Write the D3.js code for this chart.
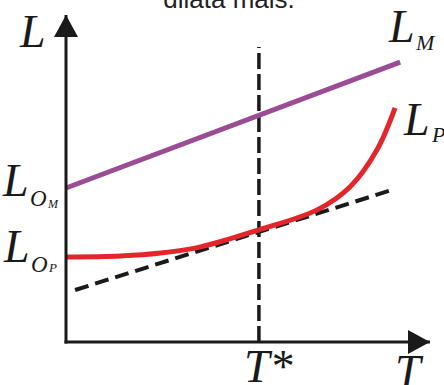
<!DOCTYPE html>
<html>
<head>
<meta charset="utf-8">
<script src="https://cdn.jsdelivr.net/npm/d3@7"></script>
<style>
  html, body { margin: 0; padding: 0; background: #fff; }
  svg { display: block; }
  .math { font-family: 'Liberation Serif', 'DejaVu Serif', serif; font-style: italic; }
</style>
</head>
<body>
<svg id="chart"></svg>
<script>
// T and L are in arbitrary units (0..100)
const tStar = 53;
const lineM = { T: [0, 91.8], L: [47.1, 85.6] };
const tangent = { T: [2.5, 90.4], L: [15.9, 46.8] };
const curveP = {
  T: [0, 15, 26, 37, 53, 69, 78, 85.4, 90.4],
  L: [26, 26.3, 27.2, 29.1, 34.3, 40.4, 47.4, 58.7, 71.6]
};
const dashTop = 90.2;

const W = 444, H = 385;
const svg = d3.select('#chart').attr('width', W).attr('height', H);

const x = d3.scaleLinear().domain([0, 100]).range([66, 430]);
const y = d3.scaleLinear().domain([0, 100]).range([342, 15]);

const defs = svg.append('defs');
defs.append('marker').attr('id', 'arr')
  .attr('viewBox', '0 0 22 24')
  .attr('refX', 22).attr('refY', 12)
  .attr('markerWidth', 22).attr('markerHeight', 24)
  .attr('markerUnits', 'userSpaceOnUse')
  .attr('orient', 'auto')
  .append('path').attr('d', 'M0,0L22,12L0,24Z').attr('fill', '#1a1a1a');

// title fragment cut at the top
svg.append('text')
  .attr('x', 229).attr('y', 8)
  .attr('text-anchor', 'middle')
  .style('font-family', "'Liberation Sans', Arial, sans-serif")
  .attr('font-size', 26)
  .attr('fill', '#222')
  .text('dilata mais.');

const toPts = s => s.T.map((t, i) => [x(t), y(s.L[i])]);
const line = d3.line();

// vertical dashed at T*
svg.append('line')
  .attr('x1', x(tStar)).attr('x2', x(tStar))
  .attr('y1', y(0)).attr('y2', y(dashTop))
  .attr('stroke', '#1a1a1a').attr('stroke-width', 3.5)
  .attr('stroke-dasharray', '16,5');

// tangent
svg.append('path')
  .attr('d', line(toPts(tangent)))
  .attr('fill', 'none')
  .attr('stroke', '#1a1a1a').attr('stroke-width', 4)
  .attr('stroke-dasharray', '14,7');

// L_M
svg.append('path')
  .attr('d', line(toPts(lineM)))
  .attr('fill', 'none')
  .attr('stroke', '#9a4c94').attr('stroke-width', 5);

// L_P
svg.append('path')
  .attr('d', d3.line().curve(d3.curveCatmullRom)(toPts(curveP)))
  .attr('fill', 'none')
  .attr('stroke', '#e3262b').attr('stroke-width', 5);

// axes
svg.append('line')
  .attr('x1', x(0)).attr('y1', y(0) + 1.5)
  .attr('x2', x(0)).attr('y2', y(100))
  .attr('stroke', '#1a1a1a').attr('stroke-width', 3)
  .attr('marker-end', 'url(#arr)');
svg.append('line')
  .attr('x1', x(0) - 1.5).attr('y1', y(0))
  .attr('x2', x(100)).attr('y2', y(0))
  .attr('stroke', '#1a1a1a').attr('stroke-width', 3)
  .attr('marker-end', 'url(#arr)');

// labels
function label(parts) {
  parts.forEach(p => {
    svg.append('text')
      .attr('class', 'math')
      .attr('x', p[0]).attr('y', p[1])
      .attr('font-size', p[2])
      .attr('fill', '#1a1a1a')
      .text(p[3]);
  });
}
label([[20, 47, 46, 'L']]);
label([[389, 42, 46, 'L'], [416, 50, 22, 'M']]);
label([[404, 135, 46, 'L'], [432, 142, 22, 'P']]);
label([[3, 196, 46, 'L'], [30, 206, 23, 'O'], [48, 208, 12, 'M']]);
label([[4, 262, 46, 'L'], [31, 272, 23, 'O'], [49, 272, 13, 'P']]);
label([[244, 382, 46, 'T*']]);
label([[395, 387, 46, 'T']]);
</script>
</body>
</html>
